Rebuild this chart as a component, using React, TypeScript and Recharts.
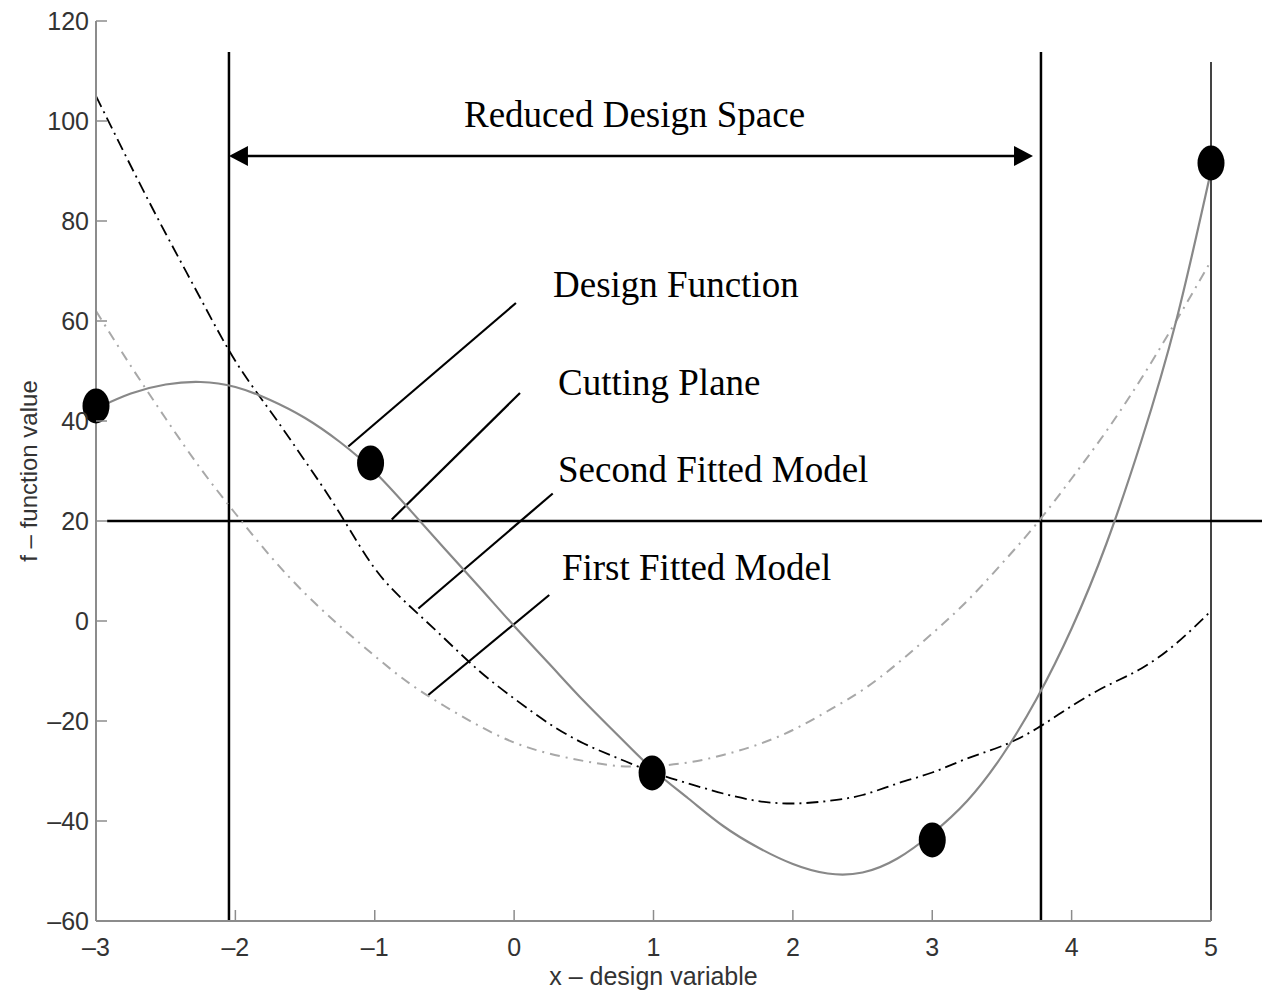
import React from 'react';
import { ComposedChart, Line, Scatter, XAxis, YAxis, ReferenceLine, ReferenceDot } from 'recharts';

const xValues = [-3, -2.75, -2.5, -2.25, -2, -1.75, -1.5, -1.25, -1, -0.75, -0.5, -0.25, 0, 0.25, 0.5, 0.75, 1, 1.25, 1.5, 1.75, 2, 2.25, 2.5, 2.75, 3, 3.25, 3.5, 3.75, 4, 4.25, 4.5, 4.75, 5];
const designFunction = [42.5, 45.5, 47.3, 47.8, 46.8, 44.2, 40.6, 35.8, 29.8, 22.3, 14.5, 6.8, -1, -8.5, -16, -23, -29.8, -35.5, -41, -45.3, -48.6, -50.5, -50.3, -47.5, -42.5, -36, -27, -15.5, -1.5, 15.5, 36, 60, 90];
const secondFittedModel = [105, 91, 77.5, 64.5, 52, 42, 32, 21.5, 10.5, 3, -3.5, -10, -15.5, -20.5, -24.5, -27.5, -30.3, -32.5, -34.5, -36, -36.5, -36, -34.8, -32.5, -30.3, -27.5, -25, -21.5, -17, -13, -9.5, -4.5, 2];
const firstFittedModel = [62, 51, 40.5, 30.5, 21.5, 13, 5.5, -1, -7, -12.5, -17, -21, -24.3, -26.5, -28, -29, -29, -28.3, -26.8, -24.7, -21.8, -18, -13.8, -8.5, -2.5, 4, 11.5, 19.5, 28.5, 38, 48.5, 60, 72];

const sampleX = [-3, -1.03, 0.99, 3, 5];
const sampleY = [43, 31.6, -30.4, -43.8, 91.6];

const xTicks = [-3, -2, -1, 0, 1, 2, 3, 4, 5];
const yTicks = [-60, -40, -20, 0, 20, 40, 60, 80, 100, 120];
const rightTicks = [-60, -40, -20, 0, 20, 40, 60, 80, 100];

const reducedLeft = -2.046;
const reducedRight = 3.78;
const cuttingValue = 20;

const annotations = [
  { text: 'Reduced Design Space', x: 0.864, y: 98.8, anchor: 'middle' },
  { text: 'Design Function', x: 0.279, y: 64.8, anchor: 'start' },
  { text: 'Cutting Plane', x: 0.315, y: 45.2, anchor: 'start' },
  { text: 'Second Fitted Model', x: 0.315, y: 27.8, anchor: 'start' },
  { text: 'First Fitted Model', x: 0.343, y: 8.2, anchor: 'start' },
];

const leaders = [
  [{ x: 0.013, y: 63.6 }, { x: -1.19, y: 34.9 }],
  [{ x: 0.042, y: 45.6 }, { x: -0.878, y: 20.3 }],
  [{ x: 0.277, y: 25.5 }, { x: -0.687, y: 2.5 }],
  [{ x: 0.252, y: 5.2 }, { x: -0.616, y: -14.8 }],
];

const tableData = xValues.map((x, i) => ({
  x,
  design: designFunction[i],
  second: secondFittedModel[i],
  first: firstFittedModel[i],
}));
const samplePoints = sampleX.map((x, i) => ({ x, y: sampleY[i] }));

const SANS = '"Liberation Sans", Arial, Helvetica, sans-serif';
const SERIF = '"Liberation Serif", "Times New Roman", serif';
const AXIS_GRAY = '#8c8c8c';
const fmt = (v: number) => (v < 0 ? '\u2013' + Math.abs(v) : String(v));

const X_MARGIN = 17;
const Y_MARGIN = 7;
const TICK_LEN = 11;

const XTick = (props: any) => {
  const { x, y, payload } = props;
  const ay = y - X_MARGIN;
  return (
    <g>
      <line x1={x} x2={x} y1={ay} y2={ay - TICK_LEN} stroke={AXIS_GRAY} strokeWidth={1.5} />
      <text x={x} y={y} dy="0.71em" textAnchor="middle" fontSize={25} fill="#333" fontFamily={SANS}>
        {fmt(payload.value)}
      </text>
    </g>
  );
};

const YTick = (props: any) => {
  const { x, y, payload } = props;
  const ax = x + Y_MARGIN;
  return (
    <g>
      <line x1={ax} x2={ax + TICK_LEN} y1={y} y2={y} stroke={AXIS_GRAY} strokeWidth={1.5} />
      <text x={x} y={y} dy="0.36em" textAnchor="end" fontSize={25} fill="#333" fontFamily={SANS}>
        {fmt(payload.value)}
      </text>
    </g>
  );
};

const RightTick = (props: any) => {
  const { x, y } = props;
  return <line x1={x} x2={x - 10} y1={y} y2={y} stroke="#555" strokeWidth={1.5} />;
};

const ArrowShape = (props: any) => {
  const { x1, y1, x2, y2 } = props;
  const L = 19;
  const H = 10;
  const left = Math.min(x1, x2);
  const right = Math.max(x1, x2);
  const y = (y1 + y2) / 2;
  return (
    <g>
      <line x1={left + L - 2} x2={right - L + 2} y1={y} y2={y} stroke="#000" strokeWidth={2.5} />
      <polygon points={`${left},${y} ${left + L},${y - H} ${left + L},${y + H}`} fill="#000" />
      <polygon points={`${right},${y} ${right - L},${y - H} ${right - L},${y + H}`} fill="#000" />
    </g>
  );
};

const Ellipse = (props: any) => <ellipse cx={props.cx} cy={props.cy} rx={13.5} ry={17.5} fill="#000" />;

export default function App() {
  return (
    <ComposedChart
      width={1262}
      height={992}
      data={tableData}
      margin={{ top: 13, right: 58, bottom: 0, left: 0 }}
    >
      <XAxis
        dataKey="x"
        type="number"
        domain={[-3, 5]}
        ticks={xTicks}
        interval={0}
        height={79}
        stroke={AXIS_GRAY}
        strokeWidth={2}
        tickLine={false}
        tickSize={0}
        tickMargin={X_MARGIN}
        tick={<XTick />}
        label={{
          value: 'x \u2013 design variable',
          position: 'insideBottom',
          offset: 15,
          fontSize: 25,
          fill: '#333',
          fontFamily: SANS,
        }}
      />
      <YAxis
        type="number"
        domain={[-60, 120]}
        ticks={yTicks}
        interval={0}
        width={88}
        stroke={AXIS_GRAY}
        strokeWidth={2}
        tickLine={false}
        tickSize={0}
        tickMargin={Y_MARGIN}
        tick={<YTick />}
        label={{
          value: 'f \u2013 function value',
          angle: -90,
          position: 'insideLeft',
          offset: 20,
          fontSize: 24,
          fill: '#333',
          fontFamily: SANS,
          style: { textAnchor: 'middle' },
        }}
      />
      <YAxis
        yAxisId="r"
        orientation="right"
        type="number"
        domain={[-60, 120]}
        ticks={rightTicks}
        interval={0}
        width={1}
        axisLine={false}
        tickLine={false}
        tickSize={0}
        tickMargin={0}
        tick={<RightTick />}
      />

      <ReferenceLine
        segment={[{ x: 5, y: -60 }, { x: 5, y: 111.8 }]}
        stroke="#444"
        strokeWidth={2}
        ifOverflow="visible"
      />
      <ReferenceLine
        segment={[{ x: reducedLeft, y: -60 }, { x: reducedLeft, y: 113.8 }]}
        stroke="#000"
        strokeWidth={2.5}
        ifOverflow="visible"
      />
      <ReferenceLine
        segment={[{ x: reducedRight, y: -60 }, { x: reducedRight, y: 113.8 }]}
        stroke="#000"
        strokeWidth={2.5}
        ifOverflow="visible"
      />
      <ReferenceLine
        segment={[{ x: -2.92, y: cuttingValue }, { x: 5.409, y: cuttingValue }]}
        stroke="#000"
        strokeWidth={2.5}
        ifOverflow="visible"
      />
      <ReferenceLine
        segment={[{ x: reducedLeft, y: 93 }, { x: 3.723, y: 93 }]}
        stroke="#000"
        shape={<ArrowShape />}
        ifOverflow="visible"
      />
      {leaders.map((seg, i) => (
        <ReferenceLine key={'l' + i} segment={seg as any} stroke="#000" strokeWidth={2.2} ifOverflow="visible" />
      ))}

      <Line
        dataKey="first"
        type="natural"
        stroke="#a8a8a8"
        strokeWidth={2}
        strokeDasharray="10 6 2 6"
        dot={false}
        activeDot={false}
        isAnimationActive={false}
      />
      <Line
        dataKey="second"
        type="natural"
        stroke="#000"
        strokeWidth={1.8}
        strokeDasharray="12 5 2 5"
        dot={false}
        activeDot={false}
        isAnimationActive={false}
      />
      <Line
        dataKey="design"
        type="natural"
        stroke="#888"
        strokeWidth={2.2}
        dot={false}
        activeDot={false}
        isAnimationActive={false}
      />
      <Scatter data={samplePoints} dataKey="y" shape={<Ellipse />} isAnimationActive={false} />

      {annotations.map((a, i) => (
        <ReferenceDot
          key={'a' + i}
          x={a.x}
          y={a.y}
          r={0}
          ifOverflow="visible"
          shape={(p: any) => (
            <text x={p.cx} y={p.cy} textAnchor={a.anchor as any} fontSize={37} fill="#000" fontFamily={SERIF}>
              {a.text}
            </text>
          )}
        />
      ))}
    </ComposedChart>
  );
}
